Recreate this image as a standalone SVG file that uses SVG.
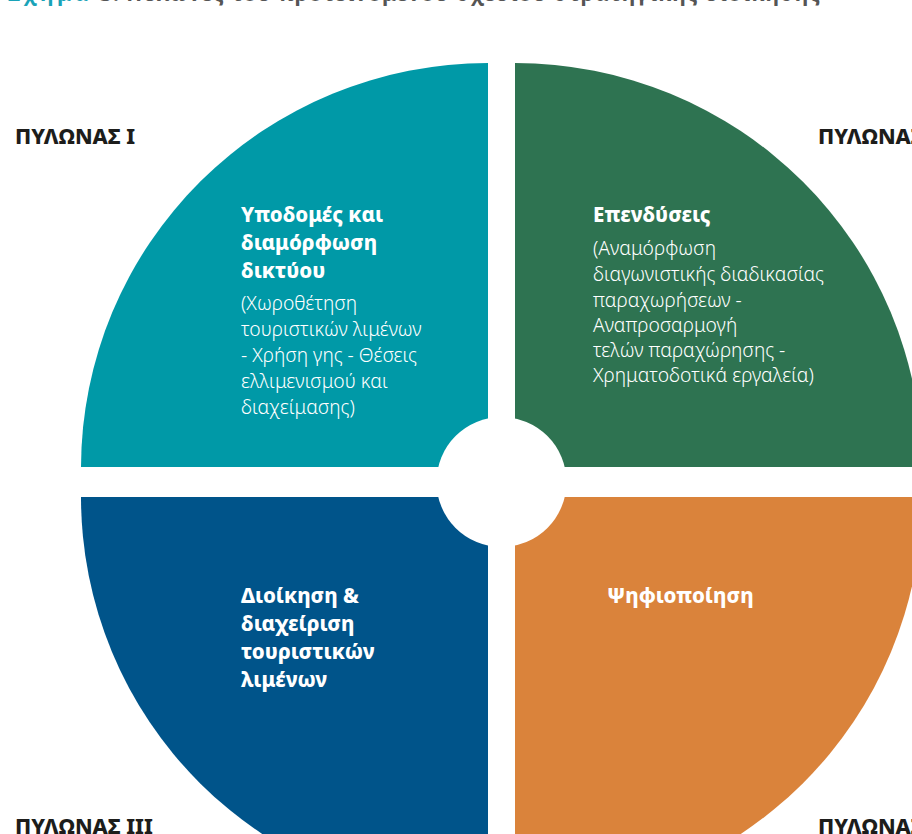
<svg xmlns="http://www.w3.org/2000/svg" width="912" height="834" viewBox="0 0 912 834">
<style>
.lbl{font-family:"Noto Sans","DejaVu Sans",sans-serif;font-weight:800;font-size:21.5px;fill:#1d1d1b}
.hd{font-family:"Noto Sans","DejaVu Sans",sans-serif;font-weight:800;font-size:20.5px;fill:#ffffff}
.bd{font-family:"Noto Sans","DejaVu Sans",sans-serif;font-weight:300;font-size:19.3px;fill:#ffffff}
.ttl{font-family:"Noto Sans","DejaVu Sans",sans-serif;font-weight:700;font-size:21px}
</style>
<rect width="912" height="834" fill="#ffffff"/>
<g id="title">
<text class="ttl" x="8" y="1" textLength="80" fill="#1aa3b8">Σχήμα</text>
<text class="ttl" x="100" y="1" textLength="720" fill="#555555">3: Πυλώνες του προτεινόμενου σχεδίου στρατηγικής διοίκησης</text>
</g>
<g id="q1">
<path d="M488,467 L81,467 A407,405 0 0 1 488,63 Z" fill="#0099a7"/>
<text class="hd" x="241" y="222">Υποδομές και</text>
<text class="hd" x="241" y="250">διαμόρφωση</text>
<text class="hd" x="241" y="278">δικτύου</text>
<text class="bd" x="241" y="310">(Χωροθέτηση</text>
<text class="bd" x="241" y="336">τουριστικών λιμένων</text>
<text class="bd" x="241" y="362">- Χρήση γης - Θέσεις</text>
<text class="bd" x="241" y="388">ελλιμενισμού και</text>
<text class="bd" x="241" y="414">διαχείμασης)</text>
</g>
<g id="q2">
<path d="M515,467 L515,63 A407,405 0 0 1 922,467 Z" fill="#2e7351"/>
<text class="hd" x="593" y="222">Επενδύσεις</text>
<text class="bd" x="593" y="255">(Αναμόρφωση</text>
<text class="bd" x="593" y="281">διαγωνιστικής διαδικασίας</text>
<text class="bd" x="593" y="307">παραχωρήσεων -</text>
<text class="bd" x="593" y="332">Αναπροσαρμογή</text>
<text class="bd" x="593" y="357">τελών παραχώρησης -</text>
<text class="bd" x="593" y="382">Χρηματοδοτικά εργαλεία)</text>
</g>
<g id="q3">
<path d="M488,497 L488,902 A407,405 0 0 1 81,497 Z" fill="#00548a"/>
<text class="hd" x="241" y="603">Διοίκηση &amp;</text>
<text class="hd" x="241" y="631">διαχείριση</text>
<text class="hd" x="241" y="659">τουριστικών</text>
<text class="hd" x="241" y="687">λιμένων</text>
</g>
<g id="q4">
<path d="M515,497 L922,497 A407,405 0 0 1 515,902 Z" fill="#da833b"/>
<text class="hd" x="607" y="603">Ψηφιοποίηση</text>
</g>
<g id="hub">
<circle cx="501.5" cy="482" r="65" fill="#ffffff"/>
</g>
<g id="labels">
<text class="lbl" x="15" y="144">ΠΥΛΩΝΑΣ Ι</text>
<text class="lbl" x="818" y="144">ΠΥΛΩΝΑΣ ΙΙ</text>
<text class="lbl" x="15" y="834">ΠΥΛΩΝΑΣ ΙΙΙ</text>
<text class="lbl" x="818" y="834">ΠΥΛΩΝΑΣ ΙV</text>
</g>
<g id="connectors"></g>
</svg>
